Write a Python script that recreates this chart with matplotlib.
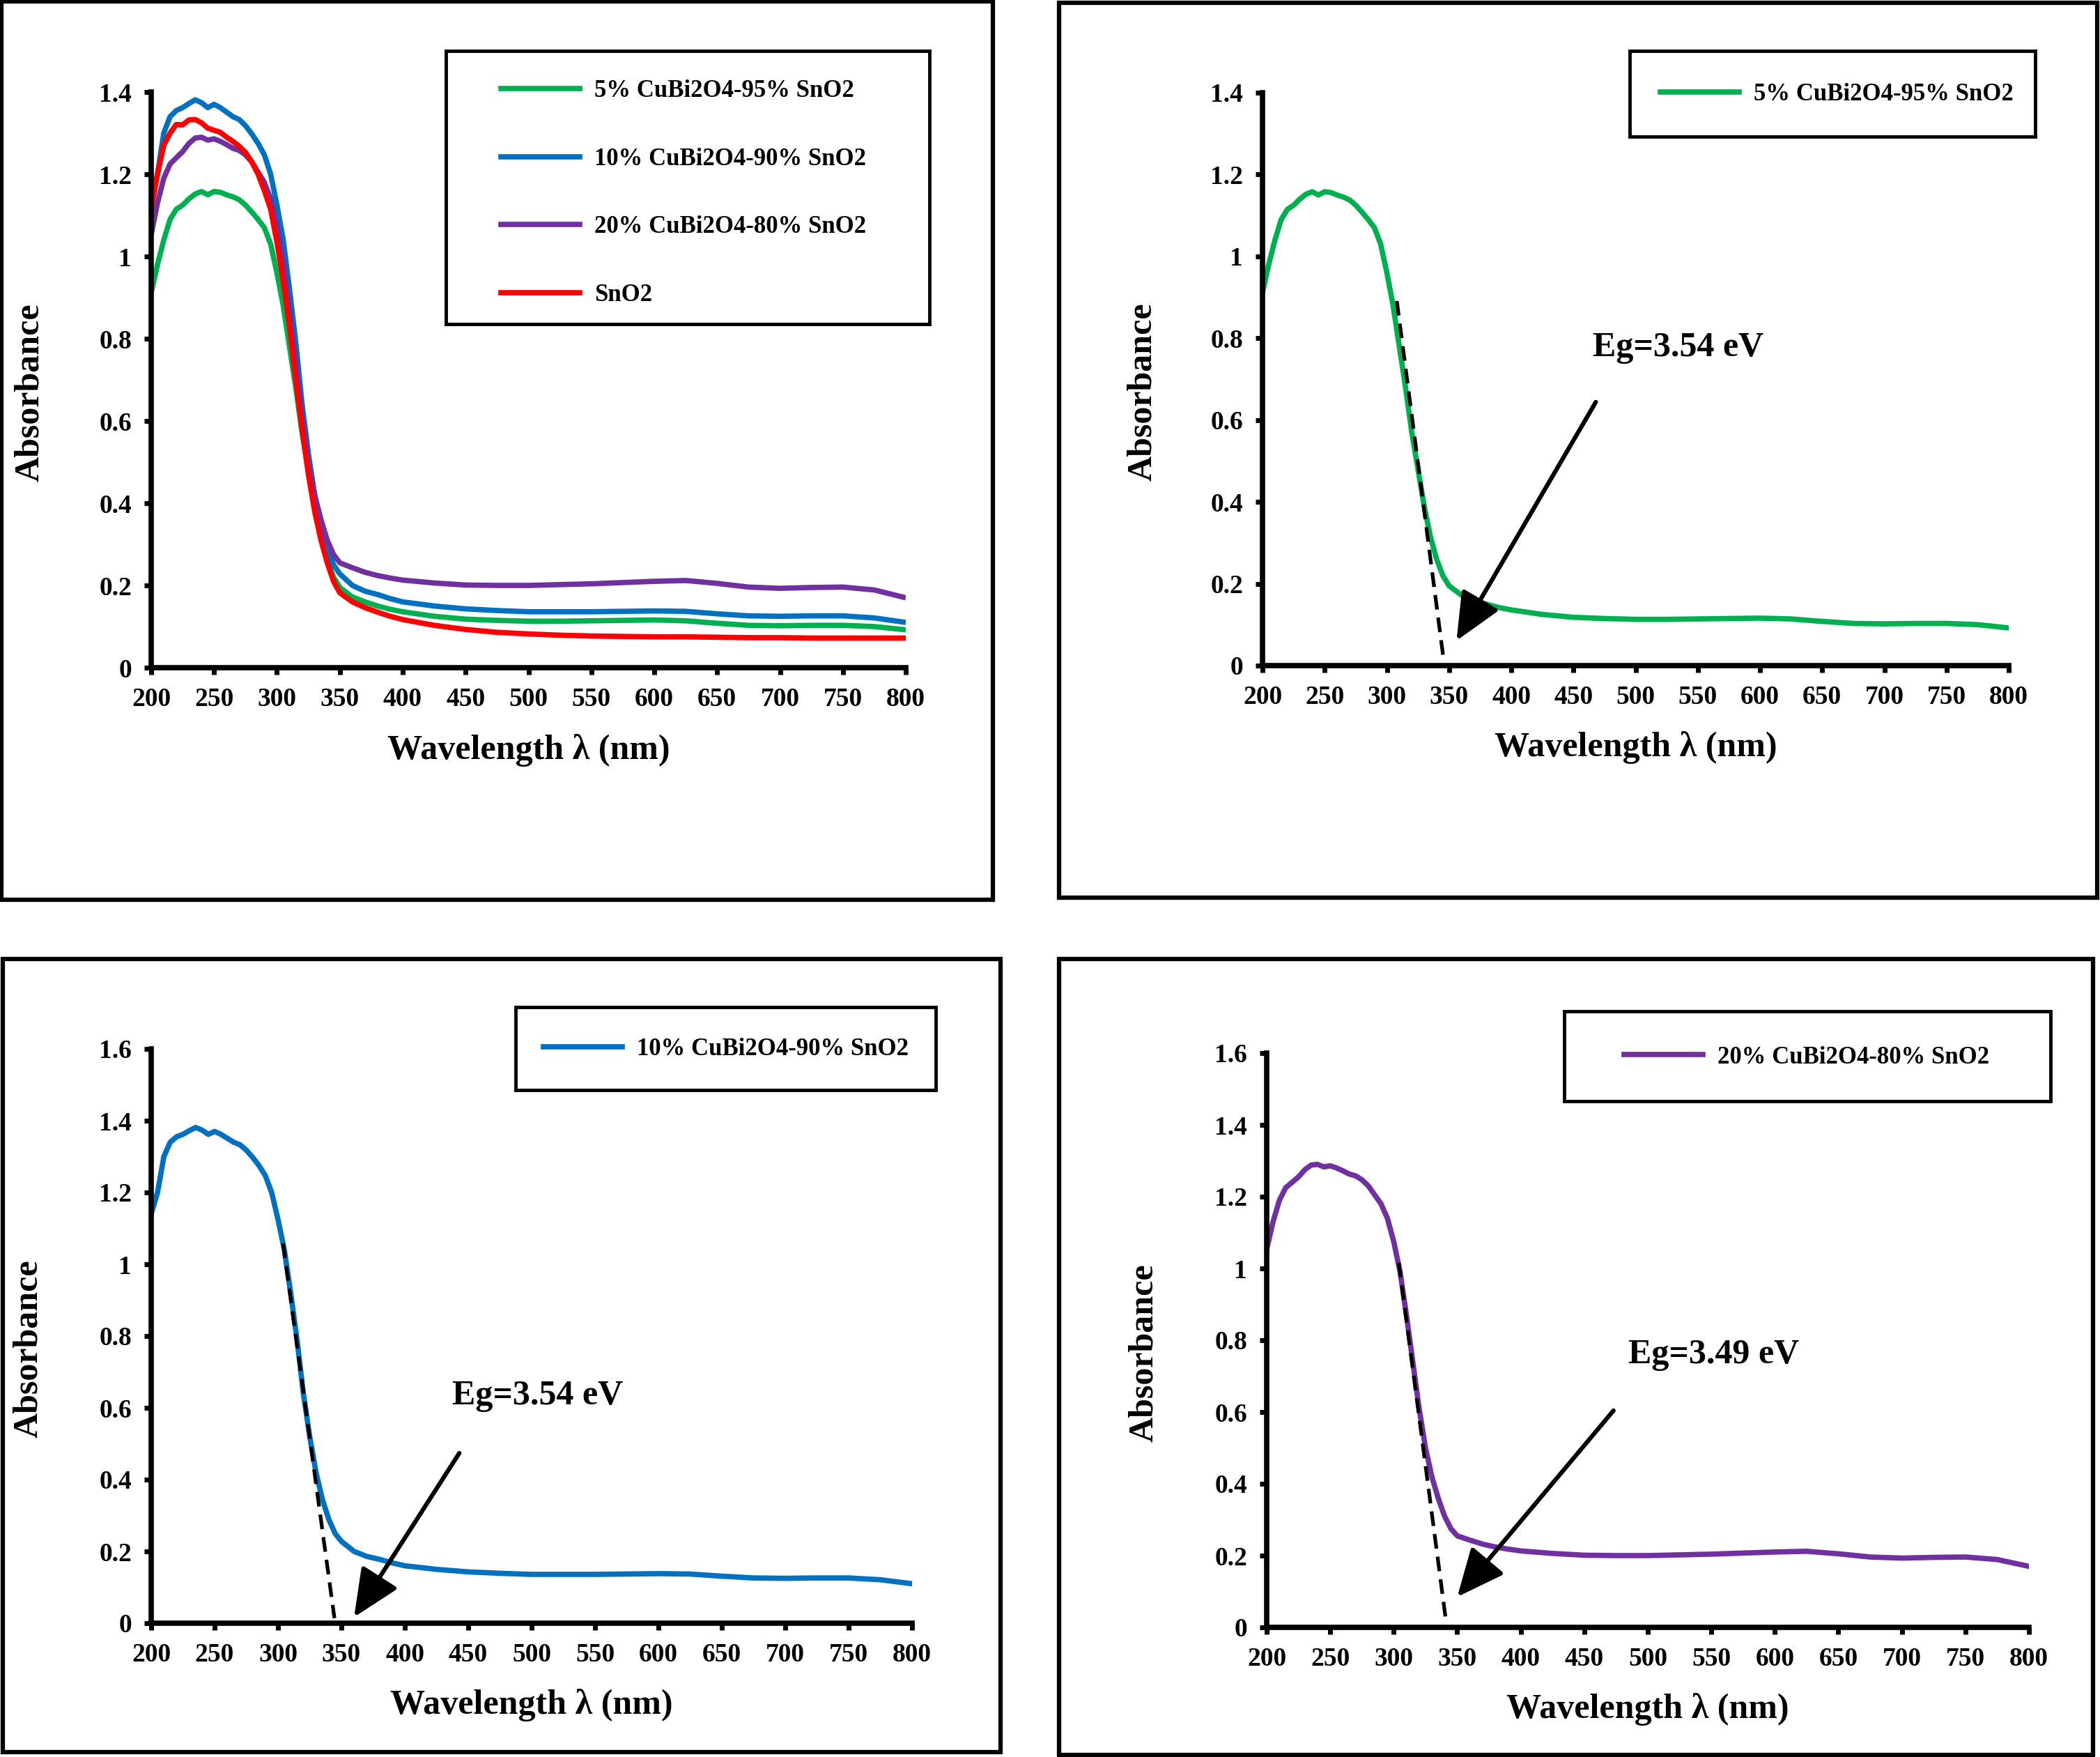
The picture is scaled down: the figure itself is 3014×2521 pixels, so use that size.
import matplotlib
matplotlib.use("Agg")
import matplotlib.pyplot as plt
from matplotlib.patches import Rectangle
from matplotlib.lines import Line2D

# wavelength grid (nm) and absorbance
wavelength = [200, 205, 210, 215, 220, 225, 230, 235, 240, 245, 250, 255, 260, 265,
              270, 275, 280, 285, 290, 295, 300, 305, 310, 315, 320, 325, 330, 335,
              340, 345, 350, 360, 370, 380, 390, 400, 425, 450, 475, 500, 525, 550,
              575, 600, 625, 650, 675, 700, 725, 750, 775, 800]

abs_5 = [0.912, 0.98, 1.04, 1.09, 1.115, 1.125, 1.14, 1.152, 1.158, 1.150, 1.158, 1.156,
         1.150, 1.145, 1.138, 1.125, 1.108, 1.09, 1.07, 1.03, 0.96, 0.88, 0.78, 0.68,
         0.57, 0.48, 0.39, 0.315, 0.26, 0.22, 0.195, 0.172, 0.160, 0.150, 0.142, 0.136,
         0.125, 0.118, 0.115, 0.113, 0.113, 0.114, 0.115, 0.116, 0.114, 0.108, 0.103,
         0.102, 0.103, 0.103, 0.100, 0.092]

abs_10 = [1.14, 1.20, 1.30, 1.34, 1.355, 1.362, 1.372, 1.381, 1.374, 1.362, 1.370, 1.362,
          1.351, 1.340, 1.333, 1.318, 1.298, 1.275, 1.247, 1.200, 1.125, 1.04, 0.92, 0.79,
          0.64, 0.52, 0.42, 0.345, 0.29, 0.25, 0.228, 0.200, 0.186, 0.178, 0.168, 0.160,
          0.150, 0.143, 0.139, 0.136, 0.136, 0.136, 0.137, 0.138, 0.137, 0.131, 0.126,
          0.125, 0.126, 0.126, 0.121, 0.110]

abs_20 = [1.053, 1.13, 1.19, 1.225, 1.24, 1.255, 1.275, 1.288, 1.290, 1.283, 1.286, 1.280,
          1.272, 1.263, 1.258, 1.247, 1.230, 1.205, 1.180, 1.14, 1.075, 0.99, 0.87, 0.74,
          0.61, 0.50, 0.42, 0.36, 0.31, 0.275, 0.255, 0.243, 0.232, 0.224, 0.218, 0.213,
          0.206, 0.201, 0.200, 0.200, 0.202, 0.204, 0.207, 0.210, 0.212, 0.205, 0.196,
          0.193, 0.195, 0.196, 0.189, 0.170]

abs_sno2 = [1.115, 1.20, 1.27, 1.30, 1.321, 1.32, 1.332, 1.333, 1.325, 1.312, 1.307, 1.302,
            1.290, 1.280, 1.268, 1.253, 1.23, 1.20, 1.16, 1.115, 1.035, 0.94, 0.83, 0.70,
            0.58, 0.47, 0.38, 0.31, 0.255, 0.21, 0.182, 0.160, 0.146, 0.135, 0.125, 0.117,
            0.103, 0.093, 0.086, 0.082, 0.079, 0.077, 0.076, 0.075, 0.075, 0.074, 0.073,
            0.073, 0.072, 0.072, 0.072, 0.072]

labels = ["5% CuBi2O4-95% SnO2", "10% CuBi2O4-90% SnO2",
          "20% CuBi2O4-80% SnO2", "SnO2"]
colors = ["#00B050", "#0070C0", "#7030A0", "#FF0000"]

# band gap tangents (start / end points) and labels
eg_text = ["Eg=3.54 eV", "Eg=3.54 eV", "Eg=3.49 eV"]
tangent_5 = [(308, 0.891), (345.6, 0.015)]
tangent_10 = [(304, 1.058), (344.5, 0.014)]
tangent_20 = [(304, 1.016), (341.5, 0.008)]

W, H = 3014, 2521
plt.rcParams['font.family'] = ['Liberation Serif', 'DejaVu Serif']
plt.rcParams['font.weight'] = 'bold'

fig = plt.figure(figsize=(W / 100, H / 100), dpi=100)


def fig_rect(x0, y0, x1, y1, lw):
    fig.add_artist(Rectangle((x0 / W, 1 - y1 / H), (x1 - x0) / W, (y1 - y0) / H,
                             transform=fig.transFigure, fill=False, lw=lw, ec='black'))


def make_axes(x0, x1, ytop, ybot, ymax):
    ax = fig.add_axes([x0 / W, 1 - ybot / H, (x1 - x0) / W, (ybot - ytop) / H])
    ax.set_xlim(200, 800)
    ax.set_ylim(0, ymax)
    ax.set_xticks(range(200, 801, 50))
    yt = [round(v * 0.2, 1) for v in range(int(round(ymax / 0.2)) + 1)]
    ax.set_yticks(yt)
    ax.set_yticklabels([f"{v:g}" for v in yt])
    ax.spines['top'].set_visible(False)
    ax.spines['right'].set_visible(False)
    ax.spines['left'].set_linewidth(5.5)
    ax.spines['bottom'].set_linewidth(5.5)
    ax.tick_params(direction='out', length=7, width=5, labelsize=27)
    ax.tick_params(axis='x', pad=13)
    ax.tick_params(axis='y', pad=13)
    for t in ax.get_xticklabels() + ax.get_yticklabels():
        t.set_fontweight('bold')
    ax.set_xlabel("Wavelength λ (nm)", fontsize=36, fontweight='bold')
    ax.set_ylabel("Absorbance", fontsize=36, fontweight='bold')
    ax.xaxis.set_label_coords(0.5, -0.143)
    ax.xaxis.label.set_verticalalignment('center')
    ax.yaxis.set_label_coords(-0.161, 0.478)
    ax.yaxis.label.set_verticalalignment('center')
    return ax


def add_legend(ax, idx, xline, ycenter, box):
    handles = [Line2D([], [], color=colors[i], lw=5.5) for i in idx]
    ax.legend(handles, [labels[i] for i in idx], loc='center left',
              bbox_to_anchor=(xline / W, 1 - ycenter / H), bbox_transform=fig.transFigure,
              frameon=False, borderpad=0, borderaxespad=0, handlelength=3.25,
              handletextpad=0.6, labelspacing=1.86, prop={'size': 25, 'weight': 'bold'})
    fig_rect(*box, lw=3.5)


def add_gap(ax, tangent, text, text_xy, arrow_from, arrow_to):
    ax.plot([tangent[0][0], tangent[1][0]], [tangent[0][1], tangent[1][1]],
            color='black', lw=3.8, ls=(0, (4, 2.2)), zorder=5)
    ax.text(text_xy[0], text_xy[1], text, fontsize=36, fontweight='bold',
            ha='center', va='center')
    ax.annotate('', xy=arrow_to, xytext=arrow_from,
                arrowprops=dict(arrowstyle='-|>,head_length=1.0,head_width=0.45',
                                lw=4.5, color='black', mutation_scale=42,
                                shrinkA=0, shrinkB=0))


series = [abs_5, abs_10, abs_20, abs_sno2]

# panel borders
fig_rect(2, 2, 1425, 1291, 4.5)
fig_rect(1520, 4, 3010, 1288, 4.5)
fig_rect(4, 1376, 1436, 2514, 4.5)
fig_rect(1520, 1376, 3004, 2518, 4.5)

# top left: all samples
ax1 = make_axes(217, 1300, 132, 958, 1.4)
for s, c in zip(series, colors):
    ax1.plot(wavelength, s, color=c, lw=5.5, solid_capstyle='butt')
add_legend(ax1, [0, 1, 2, 3], 719, 277, (640, 73, 1334, 465))

# top right: 5%
ax2 = make_axes(1812, 2883, 133, 955, 1.4)
ax2.plot(wavelength, abs_5, color=colors[0], lw=5.5)
add_legend(ax2, [0], 2383, 136, (2339, 73, 2921, 196))
add_gap(ax2, tangent_5, eg_text[0], (534, 0.777), (468, 0.644), (356, 0.061))

# bottom left: 10%
ax3 = make_axes(217, 1309, 1505, 2329, 1.6)
ax3.plot(wavelength, abs_10, color=colors[1], lw=5.5)
add_legend(ax3, [1], 780, 1506, (740, 1445, 1343, 1564))
add_gap(ax3, tangent_10, eg_text[1], (505, 0.633), (443, 0.474), (360, 0.017))

# bottom right: 20%
ax4 = make_axes(1818, 2912, 1511, 2335, 1.6)
ax4.plot(wavelength, abs_20, color=colors[2], lw=5.5)
add_legend(ax4, [2], 2331, 1517, (2245, 1451, 2943, 1580))
add_gap(ax4, tangent_20, eg_text[2], (552, 0.759), (473, 0.604), (350, 0.085))

fig.savefig("out.png", dpi=100, facecolor='white')
